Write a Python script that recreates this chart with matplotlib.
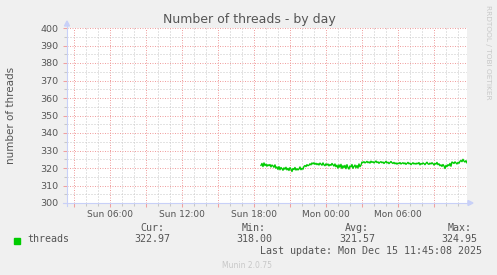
import matplotlib
matplotlib.use("Agg")
import matplotlib.pyplot as plt
from matplotlib.ticker import FixedLocator, MultipleLocator
import numpy as np

W, H = 497, 275
DPI = 100

# ---- data ----
title = "Number of threads - by day"
ylabel = "number of threads"
series_name = "threads"
end_hour = 35 + 45 / 60 + 8 / 3600          # Mon 11:45:08 as hours since Sun 00:00
span_hours = 2000 / 60                       # munin day view
data_start_hour = 18 + 35 / 60               # Sun 18:35
step_hours = 5 / 60
threads = [
    321.5, 322.6, 320.8, 322.9, 321.4, 322.2, 321.0, 321.9, 321.3, 322.0, 320.6, 321.7,
    321.2, 320.4, 321.8, 319.9, 320.6, 319.2, 320.8, 319.0, 320.3, 319.6, 318.7, 320.1,
    319.3, 320.4, 318.9, 319.8, 318.6, 320.2, 319.4, 318.0, 319.7, 319.1, 320.3, 318.8,
    319.6, 318.9, 319.4, 320.6, 319.0, 319.8, 319.3, 320.9, 321.4, 320.8, 321.9, 321.3,
    321.6, 322.4, 321.8, 322.9, 322.3, 323.0, 322.1, 322.7, 321.9, 322.5, 321.7, 322.8,
    322.2, 321.6, 322.9, 321.8, 321.3, 322.4, 321.7, 322.3, 321.2, 322.0, 321.5, 322.6,
    321.9, 321.1, 322.3, 320.7, 321.6, 319.9, 321.8, 320.4, 322.1, 319.7, 321.3, 320.2,
    321.5, 319.6, 321.9, 320.3, 319.4, 321.2, 320.6, 322.0, 319.8, 320.9, 321.7, 320.1,
    321.4, 320.0, 322.3, 320.7, 321.6, 323.4, 323.1, 323.6, 322.9, 323.3, 323.8, 323.0,
    323.5, 322.8, 323.9, 323.2, 323.6, 322.9, 323.4, 324.0, 323.1, 323.5, 322.7, 323.3,
    323.6, 323.0, 323.4, 322.6, 323.2, 323.8, 322.9, 323.3, 322.5, 323.1, 323.7, 323.0,
    322.6, 323.2, 322.4, 322.9, 322.2, 322.8, 322.5, 323.1, 322.3, 322.7, 323.0, 322.4,
    322.9, 322.1, 322.6, 323.2, 322.4, 322.8, 321.9, 322.5, 323.0, 322.3, 322.7, 322.2,
    322.8, 322.4, 323.1, 321.8, 322.6, 322.2, 322.9, 322.5, 321.9, 322.7, 323.3, 322.4,
    322.1, 322.8, 322.3, 323.0, 322.5, 321.7, 322.6, 322.2, 323.2, 321.9, 322.4, 321.3,
    321.8, 320.9, 322.0, 321.2, 319.7, 321.5, 320.8, 321.9, 321.3, 322.6, 321.0, 323.4,
    323.1, 322.6, 323.5, 322.9, 322.3, 323.2, 322.7, 323.8, 324.3, 323.6, 324.95, 323.9,
    323.4, 324.2, 322.97,
]
xtick_hours = [6, 12, 18, 24, 30]
xtick_labels = ["Sun 06:00", "Sun 12:00", "Sun 18:00", "Mon 00:00", "Mon 06:00"]
ymin, ymax = 300, 400
stat_labels = ["Cur:", "Min:", "Avg:", "Max:"]
stat_values = ["322.97", "318.00", "321.57", "324.95"]
last_update = "Last update: Mon Dec 15 11:45:08 2025"
footer = "Munin 2.0.75"
side_text = "RRDTOOL / TOBI OETIKER"

# ---- style ----
BG = "#f0f0f0"
FONT = "#555555"
AXIS = "#c8d0f8"
MGRID = "#f0a0a0"
GRID = "#c8c8c8"
LINE = "#00cc00"

fig = plt.figure(figsize=(W / DPI, H / DPI), dpi=DPI, facecolor=BG)

def fx(x):
    return x / W

def fy(y):
    return 1 - y / H

L, R, T, B = 67, 467, 28, 203
ax = fig.add_axes([fx(L), fy(B), (R - L) / W, (B - T) / H])
ax.set_facecolor("white")

xs = data_start_hour + step_hours * np.arange(len(threads))
ax.plot(xs, threads, color=LINE, lw=1.0, zorder=5)

ax.set_xlim(end_hour - span_hours, end_hour)
ax.set_ylim(ymin, ymax)

# grid (dash lengths are scaled by linewidth)
ax.xaxis.set_major_locator(FixedLocator(list(range(3, 36, 3))))
ax.xaxis.set_minor_locator(MultipleLocator(1))
ax.yaxis.set_major_locator(MultipleLocator(10))
ax.yaxis.set_minor_locator(MultipleLocator(5))
ax.grid(which="minor", color=GRID, lw=0.72, linestyle=(0, (1, 2)))
ax.grid(which="major", color=MGRID, lw=0.72, linestyle=(0, (1, 1.5)))
ax.set_axisbelow(True)

ax.set_xticklabels([xtick_labels[xtick_hours.index(h)] if h in xtick_hours else ""
                    for h in range(3, 36, 3)])
ax.tick_params(axis="x", which="major", colors=MGRID, length=3, width=0.75, pad=2,
               labelsize=6.5, labelcolor=FONT)
ax.tick_params(axis="x", which="minor", colors=GRID, length=2, width=0.75)
ax.tick_params(axis="y", which="major", colors=MGRID, length=3, width=0.75, pad=3,
               labelsize=6.8, labelcolor=FONT)
ax.tick_params(axis="y", which="minor", colors=GRID, length=2, width=0.75)

for s in ["top", "right", "left", "bottom"]:
    ax.spines[s].set_visible(False)

# axis lines with arrows (decoration)
fig.add_artist(plt.Line2D([fx(L), fx(L)], [fy(B + 3), fy(T - 4)], color=AXIS, lw=0.8))
fig.add_artist(plt.Line2D([fx(L - 4), fx(R + 2)], [fy(B), fy(B)], color=AXIS, lw=0.8))
fig.add_artist(plt.Polygon([[fx(L - 2.5), fy(T - 2)], [fx(L + 2.5), fy(T - 2)], [fx(L), fy(T - 7)]],
                           closed=True, color=AXIS, transform=fig.transFigure))
fig.add_artist(plt.Polygon([[fx(R + 1), fy(B - 2.5)], [fx(R + 1), fy(B + 2.5)], [fx(R + 6), fy(B)]],
                           closed=True, color=AXIS, transform=fig.transFigure))

# texts
fig.text(fx(249), fy(23), title, ha="center", va="baseline", fontsize=9, color=FONT,
         family="DejaVu Sans")
fig.text(fx(11), fy(115.5), ylabel, ha="center", va="center", rotation=90, fontsize=7.5,
         color=FONT, family="DejaVu Sans")
fig.text(fx(488), fy(5), side_text, ha="center", va="top", rotation=-90, fontsize=5.3,
         color="#c8c8c8", family="DejaVu Sans")

mono = "DejaVu Sans Mono"
fig.add_artist(plt.Rectangle((fx(14), fy(243.5)), 6 / W, 6 / H, color=LINE,
                             transform=fig.transFigure))
fig.text(fx(27), fy(242.5), series_name, ha="left", va="baseline", fontsize=7.2,
         color=FONT, family=mono)
label_right = [164, 266, 369, 472]
value_right = [170.5, 272.5, 375.5, 477.5]
for lab, val, lx, vx in zip(stat_labels, stat_values, label_right, value_right):
    fig.text(fx(lx), fy(231), lab, ha="right", va="baseline", fontsize=7.2,
             color=FONT, family=mono)
    fig.text(fx(vx), fy(242.5), val, ha="right", va="baseline", fontsize=7.2,
             color=FONT, family=mono)
fig.text(fx(482.5), fy(253.5), last_update, ha="right", va="baseline", fontsize=7.2,
         color=FONT, family=mono)
fig.text(fx(247), fy(268), footer, ha="center", va="baseline", fontsize=5.5,
         color="#c8c8c8", family="DejaVu Sans")

fig.savefig("out.png", dpi=DPI, facecolor=BG)
